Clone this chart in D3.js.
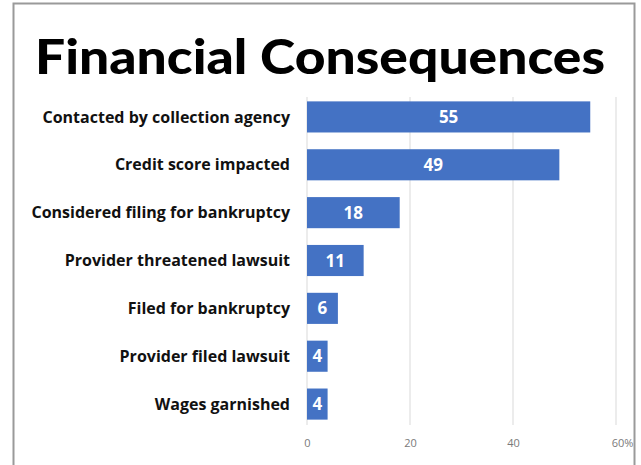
<!DOCTYPE html>
<html><head><meta charset="utf-8">
<script src="https://cdn.jsdelivr.net/npm/d3@7"></script>
<style>body{margin:0;background:#fff}svg{display:block}</style>
</head><body><svg id="c" width="641" height="465"></svg>
<script>
const categories = ["Contacted by collection agency","Credit score impacted","Considered filing for bankruptcy","Provider threatened lawsuit","Filed for bankruptcy","Provider filed lawsuit","Wages garnished"];
const values = [55,49,18,11,6,4,4];
const tickValues = [0,20,40,60];
const tickLabels = ["0","20","40","60%"];

const svg = d3.select("#c");
svg.append("rect").attr("x",0).attr("y",0).attr("width",641).attr("height",465).attr("fill","#fff");
svg.append("rect").attr("x",13.5).attr("y",3.5).attr("width",621).attr("height",480)
  .attr("fill","none").attr("stroke","#9a9a9a").attr("stroke-width",2);

svg.append("text").attr("x",320).attr("y",74).attr("text-anchor","middle")
  .attr("font-family","Lato, Inter, sans-serif").attr("font-weight",900)
  .attr("font-size",47).attr("fill","#000").attr("textLength",570).attr("lengthAdjust","spacingAndGlyphs")
  .text("Financial Consequences");

const x = d3.scaleLinear().domain([0,60]).range([307,616]);
const y = d3.scaleBand().domain(categories).range([93,428]).paddingInner(0.35).paddingOuter(0.175);

const grid = svg.append("g");
grid.selectAll("line").data(tickValues).join("line")
  .attr("x1",d=>x(d)).attr("x2",d=>x(d)).attr("y1",97).attr("y2",425)
  .attr("stroke","#d9d9d9").attr("stroke-width",1);

const xAxis = d3.axisBottom(x).tickValues(tickValues).tickSize(0).tickFormat((d,i)=>tickLabels[i]);
const ax = svg.append("g").attr("transform","translate(0,436)").call(xAxis);
ax.select(".domain").remove();
ax.selectAll("text").attr("font-family","'Open Sans', sans-serif").attr("font-size",11).attr("fill","#7a7a7a")
  .attr("dx",(d,i)=> i===3 ? 6 : 0);

svg.append("g").selectAll("rect").data(values).join("rect")
  .attr("x",x(0)).attr("y",(d,i)=>y(categories[i])).attr("width",d=>x(d)-x(0))
  .attr("height",y.bandwidth()).attr("fill","#4472C4");

svg.append("g").selectAll("text").data(values).join("text")
  .attr("x",d=>(x(0)+x(d))/2).attr("y",(d,i)=>y(categories[i])+y.bandwidth()/2+6)
  .attr("text-anchor","middle").attr("font-family","'Open Sans', sans-serif").attr("font-weight",700)
  .attr("font-size",17).attr("fill","#fff").text(d=>d);

const yAxis = d3.axisLeft(y).tickSize(0).tickPadding(0);
const ay = svg.append("g").attr("transform","translate(290,0)").call(yAxis);
ay.select(".domain").remove();
ay.selectAll("text").attr("font-family","'Open Sans', sans-serif").attr("font-weight",700)
  .attr("font-size",16).attr("fill","#111").attr("dy","0.35em");
</script></body></html>
